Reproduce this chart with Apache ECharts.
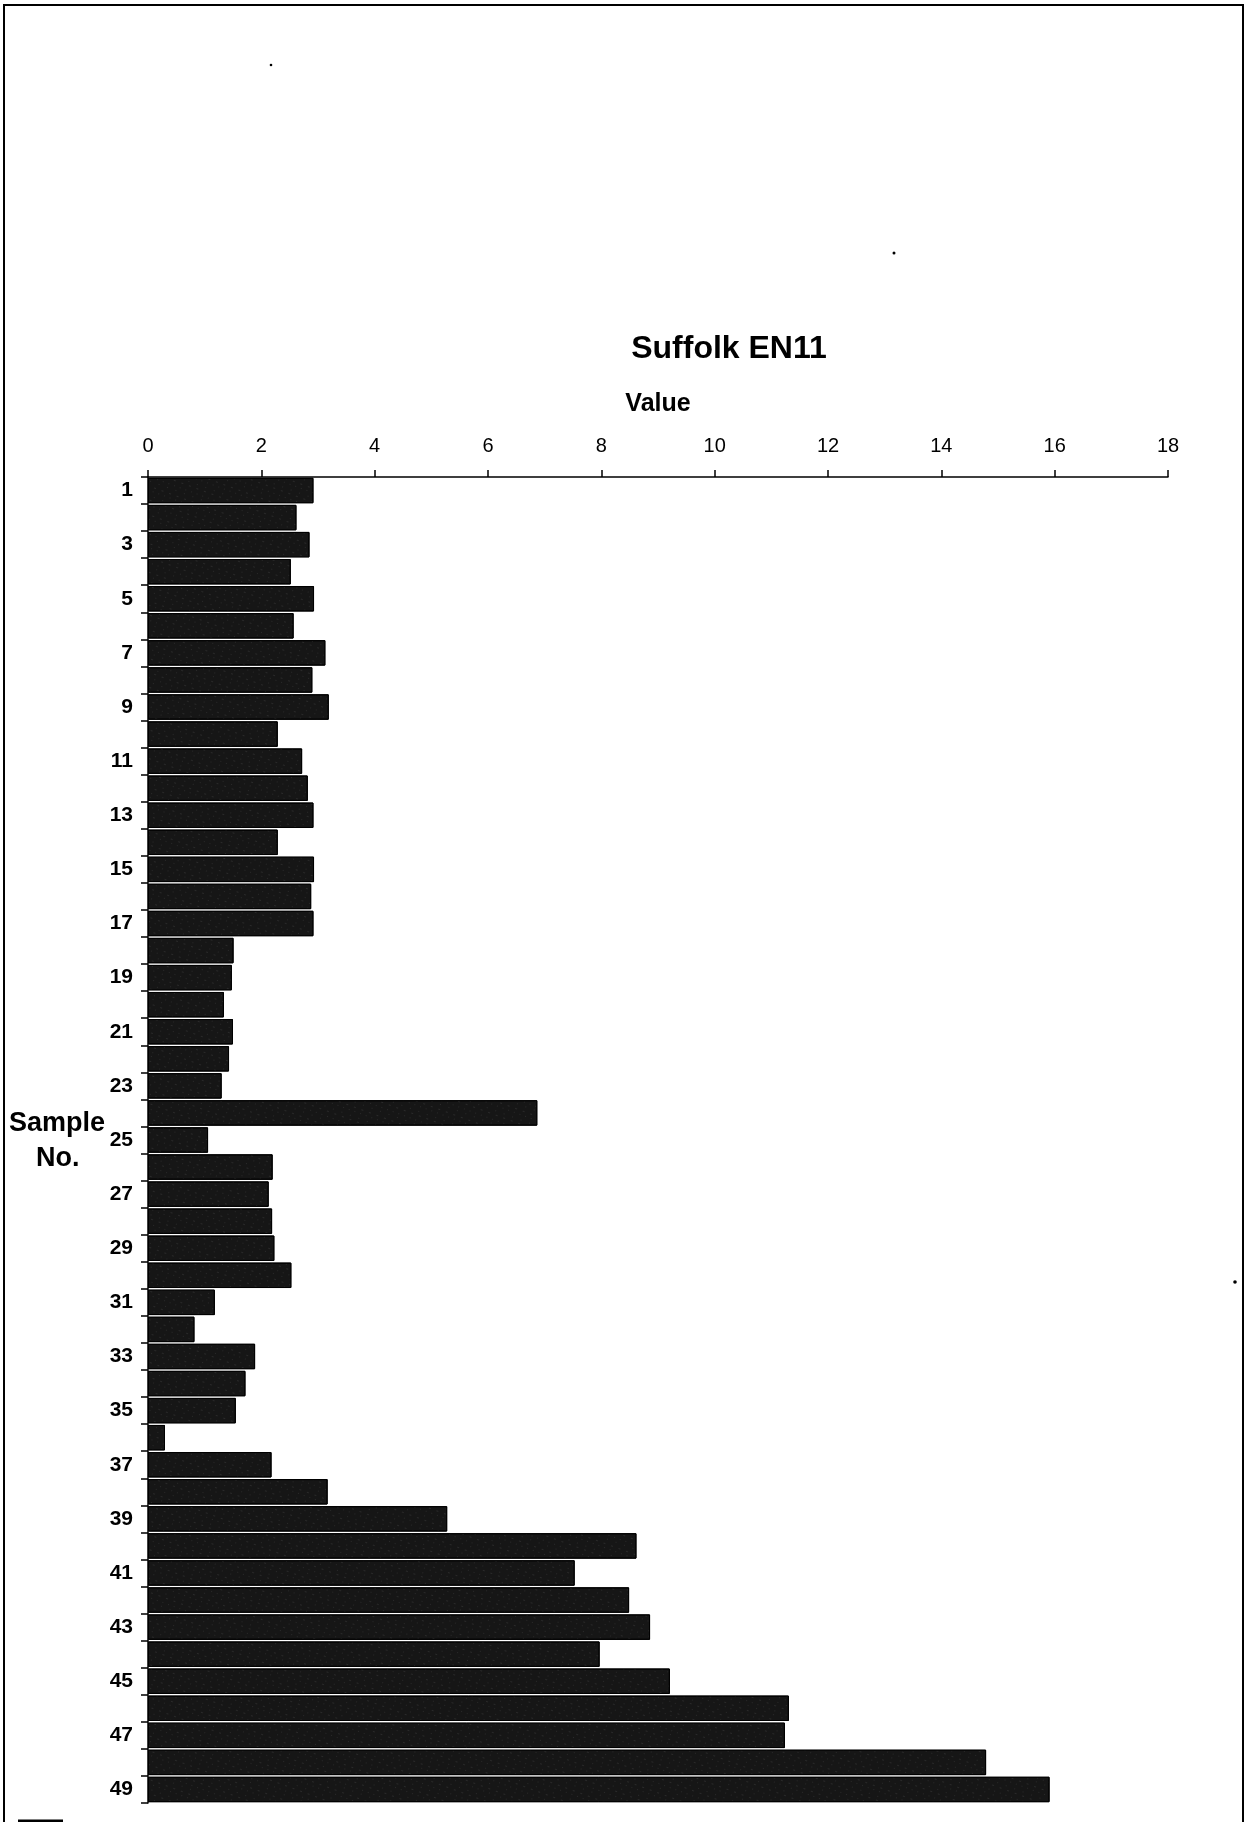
<!DOCTYPE html>
<html>
<head>
<meta charset="utf-8">
<script src="https://cdn.jsdelivr.net/npm/echarts@6/dist/echarts.min.js"></script>
<style>
html,body{margin:0;padding:0;background:#fff;}
#chart{width:1245px;height:1822px;}
</style>
</head>
<body>
<div id="chart"></div>
<script>
var titleText = 'Suffolk EN11';
var xAxisName = 'Value';
var yAxisName = ['Sample', 'No.'];
var sampleNos = [];
for (var i = 1; i <= 49; i++) sampleNos.push(String(i));
var values = [
  2.92, 2.62, 2.85, 2.52, 2.93, 2.57, 3.13, 2.90, 3.19, 2.29,
  2.72, 2.82, 2.92, 2.29, 2.93, 2.88, 2.92, 1.51, 1.48, 1.34,
  1.50, 1.43, 1.30, 6.87, 1.06, 2.20, 2.13, 2.19, 2.23, 2.53,
  1.18, 0.82, 1.89, 1.72, 1.55, 0.30, 2.18, 3.17, 5.28, 8.62,
  7.53, 8.49, 8.86, 7.97, 9.21, 11.31, 11.24, 14.79, 15.91
];
var xMin = 0, xMax = 18, xStep = 2;

var chart = echarts.init(document.getElementById('chart'), null, {renderer: 'canvas'});
var font = '"Liberation Sans", Arial, sans-serif';
chart.setOption({
  animation: false,
  backgroundColor: '#ffffff',
  title: {
    text: titleText,
    left: 724, top: 328, textAlign: 'center',
    textStyle: {fontFamily: font, fontSize: 32, fontWeight: 'bold', color: '#000'}
  },
  grid: {left: 148, top: 477, right: 77, bottom: 19, containLabel: false},
  xAxis: {
    type: 'value', position: 'top', min: xMin, max: xMax, interval: xStep,
    name: xAxisName, nameLocation: 'middle', nameGap: 60,
    nameTextStyle: {fontFamily: font, fontSize: 25, fontWeight: 'bold', color: '#000'},
    axisLine: {show: true, lineStyle: {color: '#000', width: 1.5}},
    axisTick: {show: true, inside: false, length: 7, lineStyle: {color: '#000', width: 1.5}},
    axisLabel: {fontFamily: font, fontSize: 20, color: '#000', margin: 21},
    splitLine: {show: false}
  },
  yAxis: {
    type: 'category', inverse: true, data: sampleNos,
    axisLine: {show: true, lineStyle: {color: '#000', width: 1.5}},
    axisTick: {show: true, interval: 0, length: 7, lineStyle: {color: '#000', width: 1.5}},
    axisLabel: {interval: 1, fontFamily: font, fontSize: 21, fontWeight: 'bold', color: '#000', margin: 15},
    splitLine: {show: false}
  },
  series: [{
    type: 'bar', data: values, barCategoryGap: '6%',
    itemStyle: {
      color: '#161616', borderColor: '#000', borderWidth: 1,
      decal: {
        symbol: 'rect', symbolSize: 0.6, color: 'rgba(255,255,255,0.28)',
        dashArrayX: [[1, 5], [1, 8], [2, 6]], dashArrayY: [1, 3, 1, 4], rotation: 0.35
      }
    }
  }],
  graphic: [
    {type: 'rect', silent: true, shape: {x: 4, y: 5, width: 1239, height: 1840},
     style: {fill: 'none', stroke: '#000', lineWidth: 2}},
    {type: 'text', silent: true, left: 9, top: 1110,
     style: {text: yAxisName[0], font: 'bold 27px ' + font, fill: '#000'}},
    {type: 'text', silent: true, left: 36, top: 1145,
     style: {text: yAxisName[1], font: 'bold 27px ' + font, fill: '#000'}},
    {type: 'line', silent: true, shape: {x1: 18, y1: 1821, x2: 63, y2: 1821},
     style: {stroke: '#000', lineWidth: 3}},
    {type: 'circle', silent: true, shape: {cx: 271, cy: 65, r: 1.3}, style: {fill: '#000'}},
    {type: 'circle', silent: true, shape: {cx: 894, cy: 253, r: 1.5}, style: {fill: '#000'}},
    {type: 'circle', silent: true, shape: {cx: 1235, cy: 1282, r: 1.8}, style: {fill: '#000'}}
  ]
});
</script>
</body>
</html>
